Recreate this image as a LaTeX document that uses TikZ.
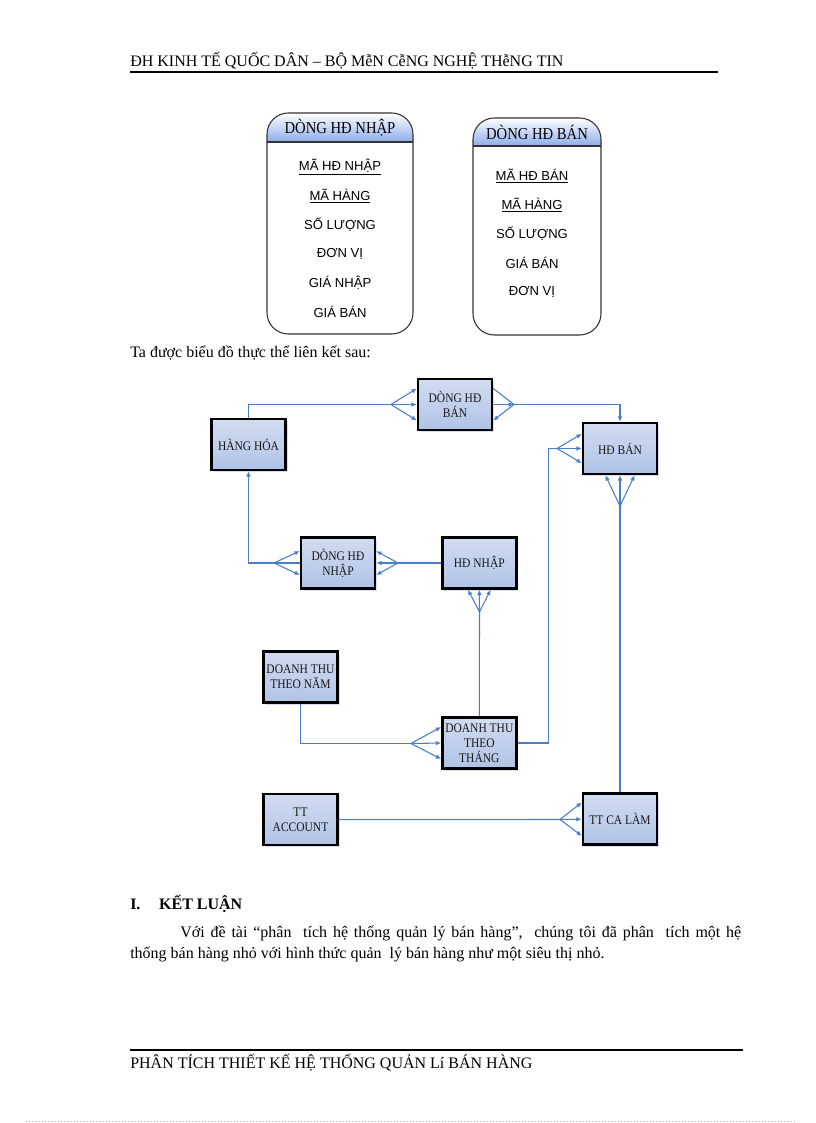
\documentclass[tikz,border=0pt]{standalone}
\usepackage{fontspec}
\setmainfont{Liberation Serif}
\newfontfamily\arialfont{Liberation Sans}
\newfontfamily\boxfont[FakeStretch=0.88]{Liberation Serif}
\usetikzlibrary{positioning,shadows,arrows.meta}
\definecolor{linkblue}{RGB}{74,126,201}
\definecolor{boxtop}{RGB}{210,220,241}
\definecolor{boxbot}{RGB}{176,195,230}
\definecolor{cardblue}{RGB}{140,172,234}
\definecolor{shadowblue}{RGB}{204,216,242}

\begin{document}
\begin{tikzpicture}[x=0.75pt,y=-0.75pt,on grid,
  entity/.style={draw=black,line width=1.8pt,top color=boxtop,bottom color=boxbot,
    minimum width=55.5pt,minimum height=38.25pt,inner sep=1pt,align=center,
    font=\boxfont\fontsize{9.8}{11.25}\selectfont,text=black!90,
    drop shadow={shadow xshift=1.5pt,shadow yshift=-1.5pt,fill=shadowblue,opacity=.8}},
  link/.style={draw=linkblue,line width=0.8pt},
  tip/.style={link,-{Latex[length=4pt,width=3.5pt]}},
  card/.style={draw=black!80,line width=0.8pt,rounded corners=16pt},
  cardtitle/.style={font=\boxfont\fontsize{12.5}{14}\selectfont},
  field/.style={font=\arialfont\fontsize{9.8}{11}\selectfont},
  txt/.style={anchor=base west,inner sep=0pt,font=\fontsize{12}{14}\selectfont}]
\useasboundingbox[fill=white] (0,0) rectangle (816,1123);

\node[txt] (head) at (130,67) {ĐH KINH TẾ QUỐC DÂN – BỘ MễN CễNG NGHỆ THễNG TIN};
\draw[line width=1pt] (130,72) -- (718,72);

\begin{scope}
\clip[rounded corners=16pt] (267,113) rectangle (413,334);
\shade[top color=white,bottom color=cardblue] (267,113) rectangle (413,142);
\end{scope}
\draw[card] (267,113) rectangle (413,334);
\draw[card] (267,142) -- (413,142);
\node[cardtitle] (tnhap) at (340,128) {DÒNG HĐ NHẬP};
\foreach \t [count=\i] in {{\underline{MÃ HĐ NHẬP}},{\underline{MÃ HÀNG}},SỐ LƯỢNG,ĐƠN VỊ,GIÁ NHẬP,GIÁ BÁN}
  \node[field] (fn\i) at (340,{167+29*(\i-1)}) {\t};

\begin{scope}
\clip[rounded corners=16pt] (473,118) rectangle (601,335);
\shade[top color=white,bottom color=cardblue] (473,118) rectangle (601,146);
\end{scope}
\draw[card] (473,118) rectangle (601,335);
\draw[card] (473,146) -- (601,146);
\node[cardtitle] (tban) at (537,132) {DÒNG HĐ BÁN};
\foreach \t [count=\i] in {{\underline{MÃ HĐ BÁN}},{\underline{MÃ HÀNG}},SỐ LƯỢNG,GIÁ BÁN,ĐƠN VỊ}
  \node[field] (fb\i) at (532,{176+29*(\i-1)}) {\t};

\node[txt] (intro) at (130,357) {Ta được biểu đồ thực thể liên kết sau:};

\node[entity] (hh) at (248.5,444.5) {HÀNG HÓA};
\node[entity] (dban) at (455,404.5) {DÒNG HĐ\\BÁN};
\node[entity] (hdban) at (620,448.5) {HĐ BÁN};
\node[entity] (dnhap) at (338,563) {DÒNG HĐ\\NHẬP};
\node[entity,right=106pt of dnhap] (hdnhap) {HĐ NHẬP};
\node[entity,below=135pt of hdnhap] (dtthang) {DOANH THU\\THEO\\THÁNG};
\node[entity] (dtnam) at (300.5,677) {DOANH THU\\THEO NĂM};
\node[entity,below=107pt of dtnam] (tta) {TT\\ACCOUNT};
\node[entity,below=278pt of hdban] (ttca) {TT CA LÀM};

\coordinate (fa) at (391,404.5);
\coordinate (fb) at (514,404.5);
\coordinate (fc) at (557,448.5);
\coordinate (fd) at (620,506);
\coordinate (fe) at (274,563);
\coordinate (ff) at (398,563);
\coordinate (fg) at (479.5,612);
\coordinate (fh) at (411,743.5);
\coordinate (fi) at (560,819.5);

\draw[link] (hh.north) |- (fa);
\foreach \d in {-12,0,12} \draw[tip] (fa) -- ([yshift=\d pt]dban.west);
\draw[link] ([yshift=12pt]dban.east) -- (fb);
\draw[tip] (dban.east) -- (fb);
\draw[tip] (fb) -- ([yshift=-12pt]dban.east);
\draw[tip] (fb) -| (hdban.north);
\foreach \d in {-11,0,11} \draw[tip] (fc) -- ([yshift=\d pt]hdban.west);
\draw[link] (dtthang.east) -- ++(31,0) |- (fc);
\foreach \d in {-11,0,11} \draw[tip] (fd) -- ([xshift=\d pt]hdban.south);
\draw[link] (ttca.north) -- (fd);
\draw[tip] (fe) -- ([yshift=9pt]dnhap.west);
\draw[link] (fe) -- (dnhap.west);
\draw[tip] (fe) -- ([yshift=-9pt]dnhap.west);
\draw[tip] (fe) -| (hh.south);
\foreach \d in {-9,0,9} \draw[tip] (ff) -- ([yshift=\d pt]dnhap.east);
\draw[link] (hdnhap.west) -- (ff);
\foreach \d in {-8.5,0,8.5} \draw[tip] (fg) -- ([xshift=\d pt]hdnhap.south);
\draw[link] (dtthang.north) -- (fg);
\foreach \d in {-12,0,12} \draw[tip] (fh) -- ([yshift=\d pt]dtthang.west);
\draw[link] (dtnam.south) |- (fh);
\foreach \d in {-12.5,0,12.5} \draw[tip] (fi) -- ([yshift=\d pt]ttca.west);
\draw[link] (tta.east) -- (fi);

\node[txt,font=\bfseries\fontsize{12}{14}\selectfont] (sec) at (130,909) {I.\hspace{14pt}KẾT LUẬN};
\node[anchor=north west,inner sep=0pt,text width=458.25pt,align=justify,
  font=\fontsize{12}{15.8}\selectfont] (para) at (130,926)
  {\hspace*{37.5pt}Với đề tài “phân\ \ tích hệ thống quản lý bán hàng”,\ \ chúng tôi đã phân\ \ tích một hệ\linebreak
  thống bán hàng nhỏ với hình thức quản\ \ lý bán hàng như một siêu thị nhỏ.};

\draw[line width=1pt] (130,1050) -- (743,1050);
\node[txt] (foot) at (130,1068) {PHÂN TÍCH THIẾT KẾ HỆ THỐNG QUẢN Lí BÁN HÀNG};
\draw[black!30,dotted] (26,1121) -- (795,1121);
\end{tikzpicture}
\end{document}
